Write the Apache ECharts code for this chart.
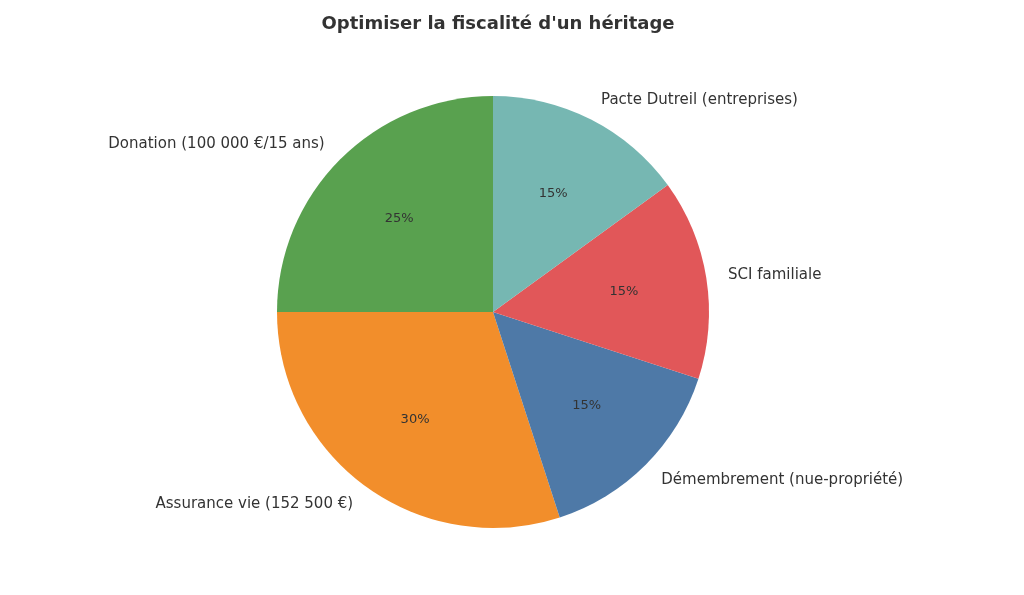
<!DOCTYPE html>
<html><head><meta charset="utf-8">
<script src="https://cdn.jsdelivr.net/npm/echarts@6/dist/echarts.min.js"></script>
<style>html,body{margin:0;padding:0;background:#fff}#c{width:1024px;height:595px}</style>
</head><body><div id="c"></div>
<script>
const categories = ["Donation (100 000 €/15 ans)", "Assurance vie (152 500 €)", "Démembrement (nue-propriété)", "SCI familiale", "Pacte Dutreil (entreprises)"];
const values = [25, 30, 15, 15, 15];
const colors = ["#59a14f", "#f28e2b", "#4e79a7", "#e15759", "#76b7b2"];
const R = 216;
const data = categories.map((n, i) => ({name: n, value: values[i], itemStyle: {color: colors[i]}}));
const chart = echarts.init(document.getElementById('c'));
chart.setOption({
  animation: false,
  textStyle: {fontFamily: 'DejaVu Sans'},
  title: {text: "Optimiser la fiscalité d'un héritage", left: 493, top: 10, textAlign: 'center',
    textStyle: {fontFamily: 'DejaVu Sans', fontSize: 18, fontWeight: 'bold', color: '#333'}},
  series: [
    {type: 'pie', center: [493, 312], radius: [0, R], startAngle: 90, clockwise: false, silent: true,
     data: data,
     label: {show: true, position: 'outside', fontSize: 15, color: '#333', fontFamily: 'DejaVu Sans', distanceToLabelLine: 0},
     labelLine: {show: false, length: 22, length2: 0},
     itemStyle: {borderWidth: 0}},
    {type: 'pie', center: [493, 312], radius: [0, R * 1.2], startAngle: 90, clockwise: false, silent: true, z: 5,
     data: categories.map((n, i) => ({name: n, value: values[i]})),
     itemStyle: {color: 'rgba(0,0,0,0)'},
     label: {show: true, position: 'inside', formatter: p => p.value + '%', fontSize: 13, color: '#333', fontFamily: 'DejaVu Sans'},
     labelLine: {show: false}}
  ]
});
</script></body></html>
